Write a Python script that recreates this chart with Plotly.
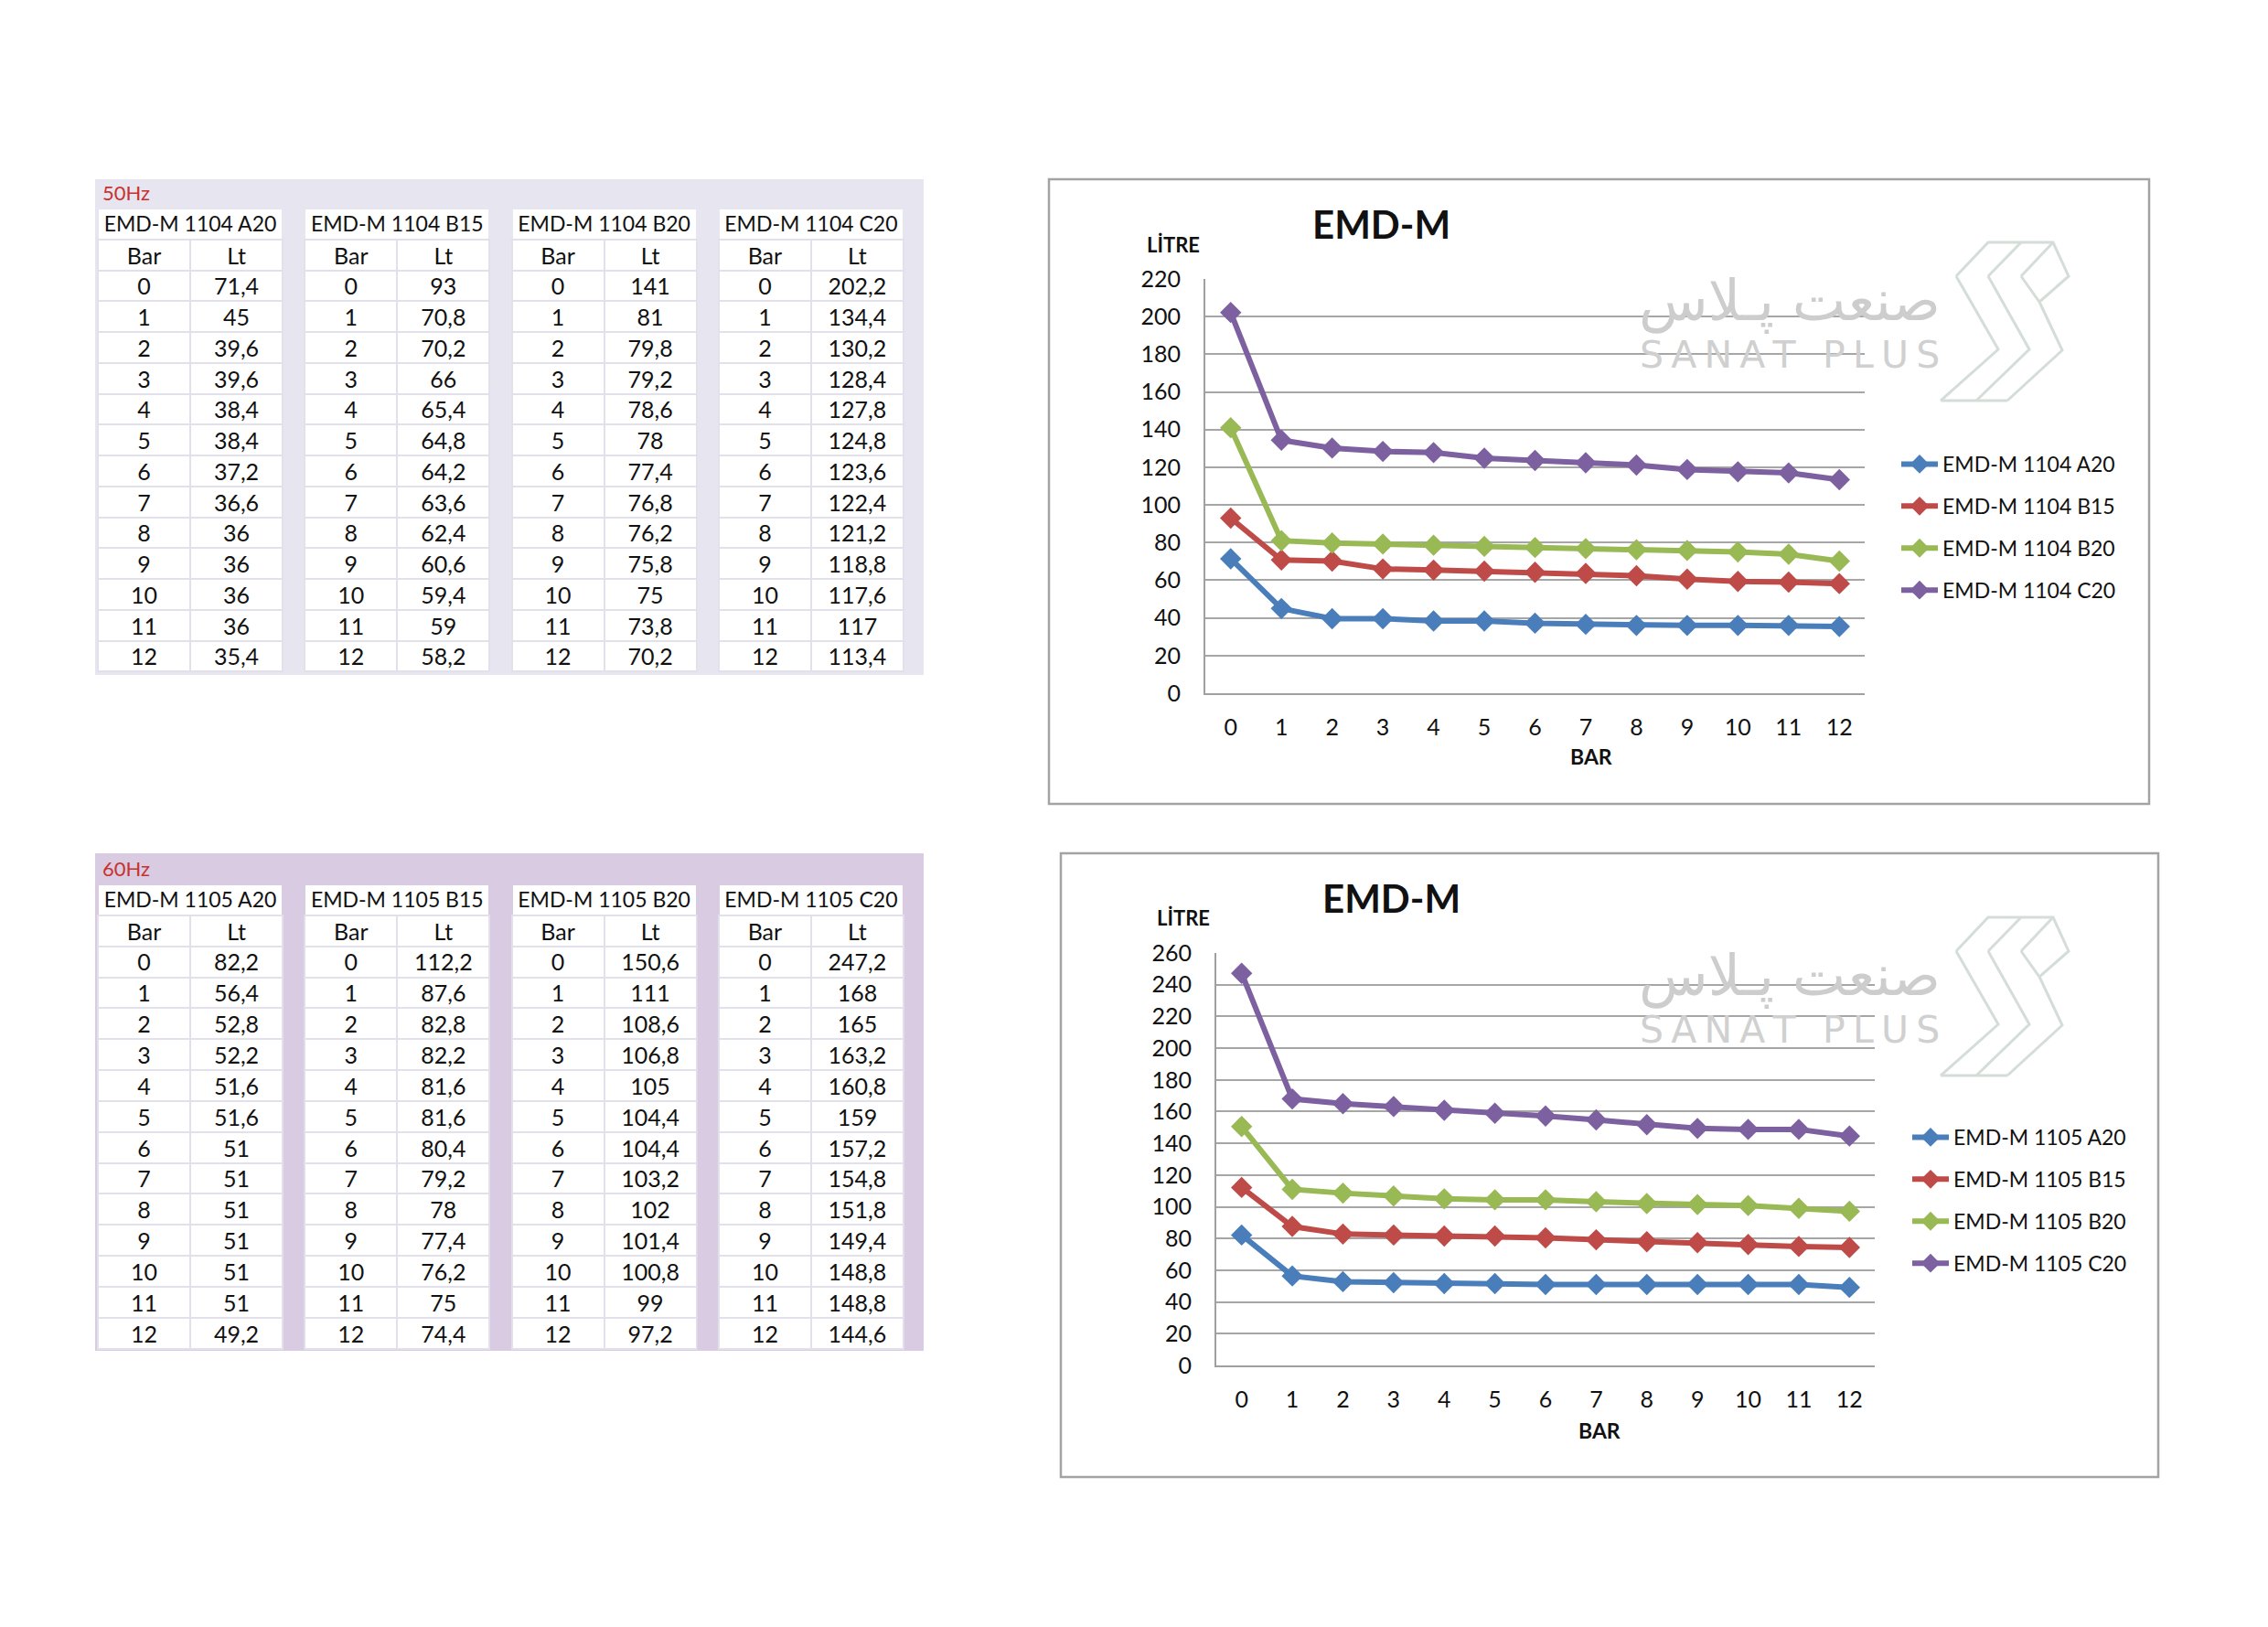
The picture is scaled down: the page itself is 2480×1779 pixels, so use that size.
import plotly.graph_objects as go

W, H = 2480, 1779

# ---------------- data ----------------
bars = list(range(13))

models_50 = ["EMD-M 1104 A20", "EMD-M 1104 B15", "EMD-M 1104 B20", "EMD-M 1104 C20"]
a20_50 = [71.4, 45, 39.6, 39.6, 38.4, 38.4, 37.2, 36.6, 36, 36, 36, 36, 35.4]
b15_50 = [93, 70.8, 70.2, 66, 65.4, 64.8, 64.2, 63.6, 62.4, 60.6, 59.4, 59, 58.2]
b20_50 = [141, 81, 79.8, 79.2, 78.6, 78, 77.4, 76.8, 76.2, 75.8, 75, 73.8, 70.2]
c20_50 = [202.2, 134.4, 130.2, 128.4, 127.8, 124.8, 123.6, 122.4, 121.2, 118.8, 117.6, 117, 113.4]

models_60 = ["EMD-M 1105 A20", "EMD-M 1105 B15", "EMD-M 1105 B20", "EMD-M 1105 C20"]
a20_60 = [82.2, 56.4, 52.8, 52.2, 51.6, 51.6, 51, 51, 51, 51, 51, 51, 49.2]
b15_60 = [112.2, 87.6, 82.8, 82.2, 81.6, 81.6, 80.4, 79.2, 78, 77.4, 76.2, 75, 74.4]
b20_60 = [150.6, 111, 108.6, 106.8, 105, 104.4, 104.4, 103.2, 102, 101.4, 100.8, 99, 97.2]
c20_60 = [247.2, 168, 165, 163.2, 160.8, 159, 157.2, 154.8, 151.8, 149.4, 148.8, 148.8, 144.6]

series_50 = [a20_50, b15_50, b20_50, c20_50]
series_60 = [a20_60, b15_60, b20_60, c20_60]

colors = ["#4a7ebb", "#be4b48", "#98b954", "#7d60a0"]
FONT = "Lato"
NB = "\u00a0"


def fx(p):
    return p / W


def fy(p):
    return 1 - p / H


def fmt(v):
    return f"{v:g}".replace(".", ",")


fig = go.Figure()
shapes = []
annotations = []

# ---------------- tables ----------------
blocks = [
    dict(label="50Hz", models=models_50, series=series_50, bg=(104, 196, 1010, 738),
         bgcolor="#e7e5f0", label_y=210, title_top=228, pitch=33.75),
    dict(label="60Hz", models=models_60, series=series_60, bg=(104, 933, 1010, 1477),
         bgcolor="#d8cbe2", label_y=950, title_top=967, pitch=33.85),
]

for b in blocks:
    x0b, y0b, x1b, y1b = b["bg"]
    shapes.append(dict(type="rect", xref="paper", yref="paper", x0=fx(x0b), x1=fx(x1b),
                       y0=fy(y1b), y1=fy(y0b), fillcolor=b["bgcolor"], line=dict(width=0),
                       layer="below"))
    annotations.append(dict(text=b["label"], xref="paper", yref="paper", x=fx(110), y=fy(b["label_y"]),
                            xanchor="left", yanchor="middle", showarrow=False,
                            font=dict(family=FONT, size=22, color="#c8322d")))
    p = b["pitch"]
    tt = b["title_top"]
    for i, (m, vals) in enumerate(zip(b["models"], b["series"])):
        x0 = 107 + 226.3 * i
        x1 = x0 + 203
        # model title row (one wide cell)
        fig.add_trace(go.Table(
            domain=dict(x=[fx(x0), fx(x1)], y=[fy(tt + p + 8), fy(tt)]),
            columnwidth=[1],
            header=dict(values=[m.replace(" ", NB)], height=p, fill_color="white", align="center",
                        line=dict(color=b["bgcolor"], width=2),
                        font=dict(family=FONT, size=23, color="#111")),
            cells=dict(values=[[""]], height=2, fill_color="rgba(0,0,0,0)",
                       line=dict(width=0, color="rgba(0,0,0,0)")),
        ))
        # Bar / Lt table
        fig.add_trace(go.Table(
            domain=dict(x=[fx(x0), fx(x1)], y=[fy(tt + p + 14 * p + 14), fy(tt + p)]),
            columnwidth=[1, 1],
            header=dict(values=["Bar", "Lt"], height=p, fill_color="white", align="center",
                        line=dict(color="#e2e0ea", width=2),
                        font=dict(family=FONT, size=25, color="#111")),
            cells=dict(values=[[str(v) for v in bars], [fmt(v) for v in vals]], height=p,
                       fill_color="white", align="center",
                       line=dict(color="#e2e0ea", width=2),
                       font=dict(family=FONT, size=25, color="#111")),
        ))

# ---------------- charts ----------------
charts = [
    dict(models=models_50, series=series_50, xa="x", ya="y", lg="legend",
         box=(1147, 196, 2350, 879), plot=(1318, 305, 2039, 758), ymax=220,
         title=(1510, 245), litre=(1283, 267), barlbl=(1740, 827), legend_top=486, legend_x=2074,
         wm_dy=0),
    dict(models=models_60, series=series_60, xa="x2", ya="y2", lg="legend2",
         box=(1160, 933, 2360, 1615), plot=(1330, 1042, 2050, 1493), ymax=260,
         title=(1521, 982), litre=(1294, 1003), barlbl=(1749, 1564), legend_top=1222, legend_x=2086,
         wm_dy=738),
]

logo_lines = [
    [(2139, 302), (2185, 382), (2122, 438)],
    [(2174, 302), (2219, 382), (2161, 438)],
    [(2230, 330), (2255, 383), (2195, 438)],
    [(2139, 302), (2174, 265), (2245, 265), (2262, 302), (2230, 330)],
    [(2174, 302), (2210, 265)],
    [(2210, 302), (2245, 265)],
    [(2210, 302), (2230, 330)],
    [(2122, 438), (2195, 438)],
]

layout_axes = {}
for ci, c in enumerate(charts):
    for k, (m, vals) in enumerate(zip(c["models"], c["series"])):
        fig.add_trace(go.Scatter(
            x=bars, y=vals, name=m, mode="lines+markers",
            line=dict(color=colors[k], width=6),
            marker=dict(symbol="diamond", size=18, color=colors[k]),
            xaxis=c["xa"], yaxis=c["ya"], legend=c["lg"], legendgroup=f"{ci}-{k}",
        ))
    px0, py0, px1, py1 = c["plot"]
    xname = "xaxis" if c["xa"] == "x" else "xaxis2"
    yname = "yaxis" if c["ya"] == "y" else "yaxis2"
    layout_axes[xname] = dict(domain=[fx(px0), fx(px1)], range=[-0.5, 12.5], tickvals=bars,
                              ticktext=[str(v) for v in bars], showgrid=False, zeroline=False,
                              showline=True, linecolor="#a0a0a0", linewidth=2,
                              tickfont=dict(family=FONT, size=25, color="#111"),
                              ticklabelstandoff=14, anchor=c["ya"], fixedrange=True, automargin=False)
    layout_axes[yname] = dict(domain=[fy(py1), fy(py0)], range=[0, c["ymax"]], dtick=20,
                              showgrid=True, gridcolor="#a6a6a6", gridwidth=2, zeroline=False,
                              showline=True, linecolor="#a0a0a0", linewidth=2,
                              tickfont=dict(family=FONT, size=25, color="#111"),
                              ticklabelstandoff=20, anchor=c["xa"], fixedrange=True, automargin=False)
    layout_axes[c["lg"]] = dict(x=fx(c["legend_x"]), y=fy(c["legend_top"]), xanchor="left", yanchor="top",
                                bgcolor="rgba(0,0,0,0)", tracegroupgap=13, itemwidth=40,
                                font=dict(family=FONT, size=23, color="#111"))
    bx0, by0, bx1, by1 = c["box"]
    shapes.append(dict(type="rect", xref="paper", yref="paper", x0=fx(bx0), x1=fx(bx1),
                       y0=fy(by1), y1=fy(by0), line=dict(color="#a3a3a3", width=2.5),
                       fillcolor="rgba(0,0,0,0)"))
    annotations.append(dict(text="<b>EMD-M</b>", xref="paper", yref="paper", x=fx(c["title"][0]),
                            y=fy(c["title"][1]), xanchor="center", yanchor="middle", showarrow=False,
                            font=dict(family=FONT, size=42, color="#111")))
    annotations.append(dict(text="<b>LİTRE</b>", xref="paper", yref="paper", x=fx(c["litre"][0]),
                            y=fy(c["litre"][1]), xanchor="center", yanchor="middle", showarrow=False,
                            font=dict(family=FONT, size=22, color="#111")))
    annotations.append(dict(text="<b>BAR</b>", xref="paper", yref="paper", x=fx(c["barlbl"][0]),
                            y=fy(c["barlbl"][1]), xanchor="center", yanchor="middle", showarrow=False,
                            font=dict(family=FONT, size=23, color="#111")))
    dy = c["wm_dy"]
    annotations.append(dict(text="صنعت پـلاس", xref="paper", yref="paper", x=fx(1957),
                            y=fy(328 + dy), xanchor="center", yanchor="middle", showarrow=False,
                            font=dict(family="DejaVu Sans", size=62, color="#cdcdcd")))
    annotations.append(dict(text="\u2009".join("SANAT PLUS"), xref="paper", yref="paper", x=fx(1957),
                            y=fy(388 + dy), xanchor="center", yanchor="middle", showarrow=False,
                            font=dict(family="DejaVu Sans", size=41, color="#d0d0d0")))
    for pl in logo_lines:
        path = "M " + " L ".join(f"{fx(x):.5f},{fy(y + dy):.5f}" for x, y in pl)
        shapes.append(dict(type="path", xref="paper", yref="paper", path=path,
                           line=dict(color="#d4ddd8", width=3)))

fig.update_layout(
    width=W, height=H,
    margin=dict(l=0, r=0, t=0, b=0, pad=0, autoexpand=False),
    paper_bgcolor="white", plot_bgcolor="rgba(0,0,0,0)",
    shapes=shapes, annotations=annotations, showlegend=True,
    **layout_axes,
)

fig.write_html("out.html")
